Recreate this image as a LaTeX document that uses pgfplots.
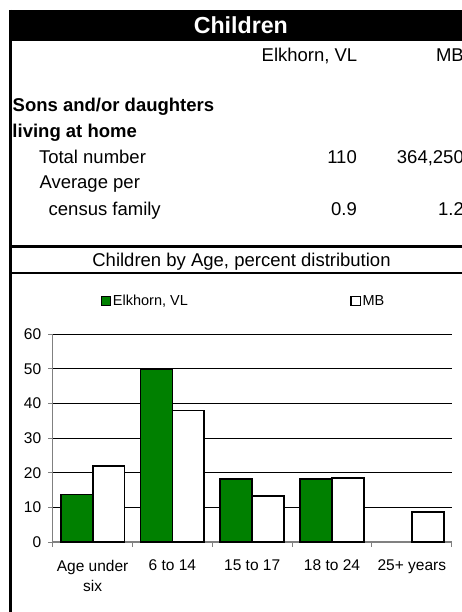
\documentclass[border=0pt]{standalone}
\usepackage{fontspec}
\setmainfont{Liberation Sans}
\usepackage{pgfplots}
\pgfplotsset{compat=1.18}
\definecolor{elkgreen}{RGB}{0,128,0}
\newcommand{\hdr}{\fontsize{18.5}{22}\selectfont}
\begin{document}
\begin{tikzpicture}[x=1pt,y=-1pt]
\useasboundingbox (0,0) rectangle (462,612);
\clip (0,0) rectangle (462,612);
% header band
\fill[black] (9,10) rectangle (480,40.7);
\node[anchor=base, text=white, font=\fontsize{23.2}{26}\selectfont\bfseries, inner sep=0] at (240.8,33.3) {Children};
\node[anchor=base east, inner sep=0, font=\hdr] at (357.5,61.7) {Elkhorn, VL};
\node[anchor=base east, inner sep=0, font=\hdr] at (464,61.7) {MB};
\node[anchor=base west, inner sep=0, font=\hdr\bfseries] at (12.5,111.7) {Sons and/or daughters};
\node[anchor=base west, inner sep=0, font=\hdr\bfseries] at (12.3,137.7) {living at home};
\node[anchor=base west, inner sep=0, font=\hdr] at (38.8,163.3) {Total number};
\node[anchor=base east, inner sep=0, font=\hdr] at (357,163.3) {110};
\node[anchor=base east, inner sep=0, font=\hdr] at (464,163.3) {364,250};
\node[anchor=base west, inner sep=0, font=\hdr] at (39.3,188.3) {Average per};
\node[anchor=base west, inner sep=0, font=\hdr] at (48.5,215) {census family};
\node[anchor=base east, inner sep=0, font=\hdr] at (357,215) {0.9};
\node[anchor=base east, inner sep=0, font=\hdr] at (464,215) {1.2};
% rules
\draw[line width=3.3pt] (9,246.7) -- (480,246.7);
\draw[line width=2.3pt] (9,272.8) -- (480,272.8);
\draw[line width=3pt] (10.5,10) -- (10.5,620);
\node[anchor=base, inner sep=0, font=\hdr] at (241.5,266) {Children by Age, percent distribution};
\begin{axis}[
  at={(52.7pt,-542pt)}, anchor=south west,
  scale only axis, width=399pt, height=207.7pt,
  xmin=-0.5, xmax=4.5, ymin=0, ymax=60,
  axis lines*=left,
  axis line style={draw=gray, line width=1.2pt},
  ytick={0,10,...,60},
  ymajorgrids, grid style={black, line width=0.9pt},
  xtick={0,1,2,3,4},
  xticklabels={{Age under\\six},{6 to 14},{15 to 17},{18 to 24},{25+ years}},
  major x tick style={draw=none},
  minor xtick={-0.5,0.5,1.5,2.5,3.5,4.5},
  tick align=outside,
  major tick length=4.5pt, minor tick length=4.5pt,
  tick style={draw=gray, line width=1pt},
  /pgf/number format/assume math mode=true,
  yticklabel style={font=\fontsize{15.5}{18}\selectfont, xshift=-3.5pt},
  xticklabel style={font=\fontsize{15.5}{20.7}\selectfont, align=center, yshift=-10pt},
  ybar, bar width=0.4,
  every axis plot/.append style={draw=black, line width=1.8pt},
  legend image code/.code={\draw[#1,/tikz/.cd,line width=1.5pt] (0pt,-4.6pt) rectangle (9.2pt,4.6pt);},
  legend columns=2,
  legend style={draw=none, fill=none, inner sep=0pt,
    at={(0.12,1.1604)}, anchor=west,
    font=\fontsize{14.5}{17}\selectfont,
    nodes={inner sep=1.5pt},
    /tikz/column 2/.style={column sep=161pt}},
]
\addplot[fill=elkgreen, bar shift=-0.2] coordinates {(0,13.7) (1,50.0) (2,18.2) (3,18.2)};
\addplot[fill=white, bar shift=0.2] coordinates {(0,21.9) (1,38.0) (2,13.4) (3,18.4) (4,8.6)};
\legend{{Elkhorn, VL},{MB}}
\end{axis}
\end{tikzpicture}
\end{document}
